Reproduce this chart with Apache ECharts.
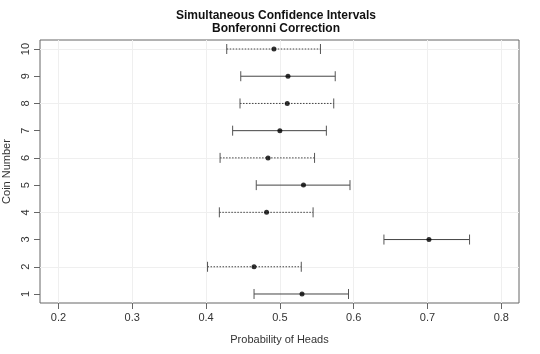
<!DOCTYPE html>
<html>
<head>
<meta charset="utf-8">
<script src="https://cdn.jsdelivr.net/npm/echarts@6/dist/echarts.min.js"></script>
<style>
  html, body { margin: 0; padding: 0; background: #fff; }
  #chart { width: 540px; height: 354px; }
</style>
</head>
<body>
<div id="chart"></div>
<script>
// coin data
const coins = [1, 2, 3, 4, 5, 6, 7, 8, 9, 10];
const estimates = [0.530, 0.465, 0.702, 0.482, 0.532, 0.484, 0.500, 0.510, 0.511, 0.492];
const lower = [0.465, 0.402, 0.641, 0.418, 0.468, 0.419, 0.436, 0.446, 0.447, 0.428];
const upper = [0.593, 0.529, 0.757, 0.545, 0.595, 0.547, 0.563, 0.573, 0.575, 0.555];
const dotted = [false, true, false, true, false, true, false, true, false, true];

const xTicks = [0.2, 0.3, 0.4, 0.5, 0.6, 0.7, 0.8];
const yTicks = [1, 2, 3, 4, 5, 6, 7, 8, 9, 10];
const yGrid = [2, 4, 6, 8, 10];

const font = 'Liberation Sans, Arial, sans-serif';

document.addEventListener("DOMContentLoaded", () => {
    const chart = echarts.init(document.getElementById('chart'));

    let barData = coins.map((c, i) => [lower[i], upper[i], c, dotted[i] ? 1 : 0]);
    let pointData = coins.map((c, i) => [estimates[i], c]);

    // faint grid lines, like R's grid()
    let gridLines = [];
    xTicks.forEach(v => gridLines.push({ xAxis: v }));
    yGrid.forEach(v => gridLines.push({ yAxis: v }));

    chart.setOption({
        animation: false,
        title: {
            text: 'Simultaneous Confidence Intervals\nBonferonni Correction',
            left: 271,
            top: 4,
            textAlign: 'center',
            textStyle: {
                fontFamily: font,
                fontSize: 12,
                fontWeight: 'bold',
                lineHeight: 13,
                color: '#111'
            }
        },
        grid: {
            left: 40,
            right: 21,
            top: 40,
            bottom: 51,
            outerBoundsMode: 'none',
            show: true,
            borderColor: '#666',
            borderWidth: 1
        },
        xAxis: {
            type: 'value',
            min: 0.175,
            max: 0.824,
            name: 'Probability of Heads',
            nameLocation: 'middle',
            nameGap: 31,
            nameTextStyle: { fontFamily: font, fontSize: 11, color: '#333' },
            axisLine: { show: false },
            axisTick: { show: true, length: 6, lineStyle: { color: '#666' }, customValues: xTicks },
            axisLabel: {
                fontFamily: font, fontSize: 11, color: '#333', margin: 9,
                customValues: xTicks,
                formatter: v => String(v)
            },
            splitLine: { show: false }
        },
        yAxis: {
            type: 'value',
            min: 0.669,
            max: 10.331,
            name: 'Coin Number',
            nameLocation: 'middle',
            nameGap: 26,
            nameRotate: 90,
            nameTextStyle: { fontFamily: font, fontSize: 11, color: '#333' },
            axisLine: { show: false },
            axisTick: { show: true, length: 6, lineStyle: { color: '#666' }, customValues: yTicks },
            axisLabel: {
                fontFamily: font, fontSize: 11, color: '#333', margin: 9,
                rotate: 90,
                customValues: yTicks
            },
            splitLine: { show: false }
        },
        series: [
            {
                type: 'line',
                data: [],
                silent: true,
                z: 0,
                markLine: {
                    silent: true,
                    z: 0,
                    symbol: ['none', 'none'],
                    label: { show: false },
                    lineStyle: { color: '#efefef', width: 1, type: 'solid' },
                    data: gridLines
                }
            },
            {
                type: 'custom',
                z: 10,
                data: barData,
                renderItem: function (params, api) {
                    let lo = api.coord([api.value(0), api.value(2)]);
                    let hi = api.coord([api.value(1), api.value(2)]);
                    let dash = api.value(3) ? [1.5, 1.5] : null;
                    let style = { stroke: '#444', lineWidth: 1, lineDash: dash };
                    let capStyle = { stroke: '#555', lineWidth: 1 };
                    let h = 5;
                    return {
                        type: 'group',
                        children: [
                            { type: 'line', shape: { x1: lo[0], y1: lo[1], x2: hi[0], y2: hi[1] }, style: style },
                            { type: 'line', shape: { x1: lo[0], y1: lo[1] - h, x2: lo[0], y2: lo[1] + h }, style: capStyle },
                            { type: 'line', shape: { x1: hi[0], y1: hi[1] - h, x2: hi[0], y2: hi[1] + h }, style: capStyle }
                        ]
                    };
                }
            },
            {
                type: 'scatter',
                z: 20,
                data: pointData,
                symbol: 'circle',
                symbolSize: 5,
                itemStyle: { color: '#000' }
            }
        ]
    });
});
</script>
</body>
</html>
